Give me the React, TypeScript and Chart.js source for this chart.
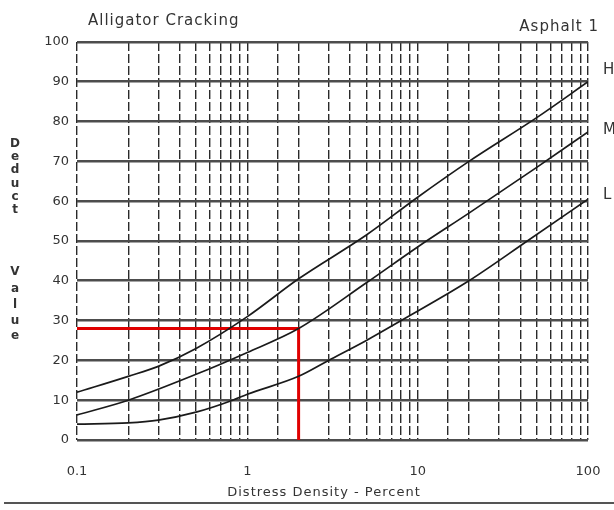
import { useEffect, useRef } from "react";
import Chart from "chart.js/auto";

// Alligator cracking deduct curves (severity High / Medium / Low)
const densityH = [0.1, 0.2, 0.3, 0.5, 1, 2, 5, 10, 20, 50, 100];
const deductH = [12, 16, 18.5, 23, 31, 40.5, 51.5, 61, 70, 81, 90];
const densityM = [0.1, 0.2, 0.5, 1, 2, 5, 10, 20, 50, 100];
const deductM = [6.3, 10, 16.5, 22, 28, 39.5, 48.5, 57, 68.5, 77.4];
const densityL = [0.1, 0.2, 0.3, 0.5, 0.82, 1, 2, 3, 5, 8, 20, 44, 100];
const deductL = [4, 4.3, 5, 7, 10, 11.5, 16, 20, 25, 30, 40, 50, 60.5];
// Worked example (red)
const exampleDensity = [0.1, 2, 2];
const exampleDeduct = [28, 28, 0];

const xTickLabels = [0.1, 1, 10, 100];
const curveLabels = ["H", "M", "L"];
const titleText = "Alligator Cracking";
const subtitleText = "Asphalt 1";
const xTitle = "Distress Density - Percent";
const yTitleWords = ["Deduct", "Value"];

const FONT = "'DejaVu Sans', Verdana, sans-serif";

const toPoints = (xs: number[], ys: number[]) => xs.map((x, i) => ({ x, y: ys[i] }));

const decor = {
  id: "decor",
  afterDraw(chart: any) {
    const { ctx, scales } = chart;
    const ys = scales.y;
    ctx.save();
    ctx.fillStyle = "#333";
    ctx.textBaseline = "middle";
    ctx.font = `15px ${FONT}`;
    (ctx as any).letterSpacing = "1px";
    ctx.textAlign = "left";
    ctx.fillText(titleText, 88, 21);
    ctx.textAlign = "right";
    ctx.fillText(subtitleText, 599, 27);

    // curve labels just right of each curve's end
    const ends = [deductH, deductM, deductL].map((a) => a[a.length - 1]);
    const labelLift = [3, 0.5, 1];
    ctx.textAlign = "left";
    (ctx as any).letterSpacing = "0px";
    ctx.font = `15px ${FONT}`;
    curveLabels.forEach((lab, i) => {
      ctx.fillText(lab, 603, ys.getPixelForValue(ends[i] + labelLift[i]));
    });

    // stacked y-axis title
    ctx.font = `bold 12px ${FONT}`;
    ctx.textAlign = "center";
    const first = yTitleWords[0].split("");
    const firstY = [144, 157, 170, 184, 197, 210];
    first.forEach((ch, i) => ctx.fillText(ch, 15, firstY[i]));
    const second = yTitleWords[1].split("");
    const secondY = [272, 289, 305, 321, 336];
    second.forEach((ch, i) => ctx.fillText(ch, 15, secondY[i]));

    // x title
    ctx.font = `13px ${FONT}`;
    (ctx as any).letterSpacing = "1px";
    ctx.textAlign = "center";
    ctx.fillText(xTitle, 324, 493);

    // bottom rule
    ctx.strokeStyle = "#555";
    ctx.lineWidth = 2;
    ctx.beginPath();
    ctx.moveTo(4, 503);
    ctx.lineTo(614, 503);
    ctx.stroke();
    ctx.restore();
  },
};

export default function App() {
  const ref = useRef<HTMLCanvasElement>(null);
  useEffect(() => {
    if (!ref.current) return;
    const curve = (xs: number[], ys: number[]) => ({
      data: toPoints(xs, ys),
      borderColor: "#1a1a1a",
      borderWidth: 1.7,
      pointRadius: 0,
      cubicInterpolationMode: "monotone" as const,
      fill: false,
    });
    const chart = new Chart(ref.current, {
      type: "line",
      data: {
        datasets: [
          curve(densityH, deductH),
          curve(densityM, deductM),
          curve(densityL, deductL),
          {
            data: toPoints(exampleDensity, exampleDeduct),
            borderColor: "#e00000",
            borderWidth: 3,
            pointRadius: 0,
            tension: 0,
            fill: false,
          },
        ],
      },
      options: {
        responsive: false,
        animation: false,
        devicePixelRatio: 1,
        layout: { padding: { top: 42, right: 26, left: 0, bottom: 0 } },
        plugins: {
          legend: { display: false },
          tooltip: { enabled: false },
          title: { display: false },
        },
        scales: {
          x: {
            type: "logarithmic",
            min: 0.1,
            max: 100,
            afterFit: (s: any) => {
              s.height = 70;
              s.paddingLeft = 0;
              s.paddingRight = 0;
            },
            grid: { color: "#2a2a2a", lineWidth: 1.4, drawTicks: false },
            border: { display: false, dash: [9, 3] },
            ticks: {
              autoSkip: false,
              maxRotation: 0,
              padding: 24,
              color: "#333",
              font: { size: 13, family: FONT },
              callback: (v: any) =>
                xTickLabels.some((t) => Math.abs(t - Number(v)) < 1e-9) ? String(v) : "",
            },
          },
          y: {
            min: 0,
            max: 100,
            afterFit: (s: any) => {
              s.width = 77;
              s.paddingTop = 0;
              s.paddingBottom = 0;
            },
            grid: { color: "#4d4d4d", lineWidth: 2.6, drawTicks: false },
            border: { display: false },
            ticks: {
              stepSize: 10,
              padding: 8,
              color: "#333",
              font: { size: 13, family: FONT },
            },
          },
        },
      },
      plugins: [decor],
    });
    return () => chart.destroy();
  }, []);
  return (
    <div style={{ position: "fixed", left: 0, top: 0, width: 614, height: 510, background: "#fff" }}>
      <canvas ref={ref} width={614} height={510} style={{ display: "block" }} />
    </div>
  );
}
